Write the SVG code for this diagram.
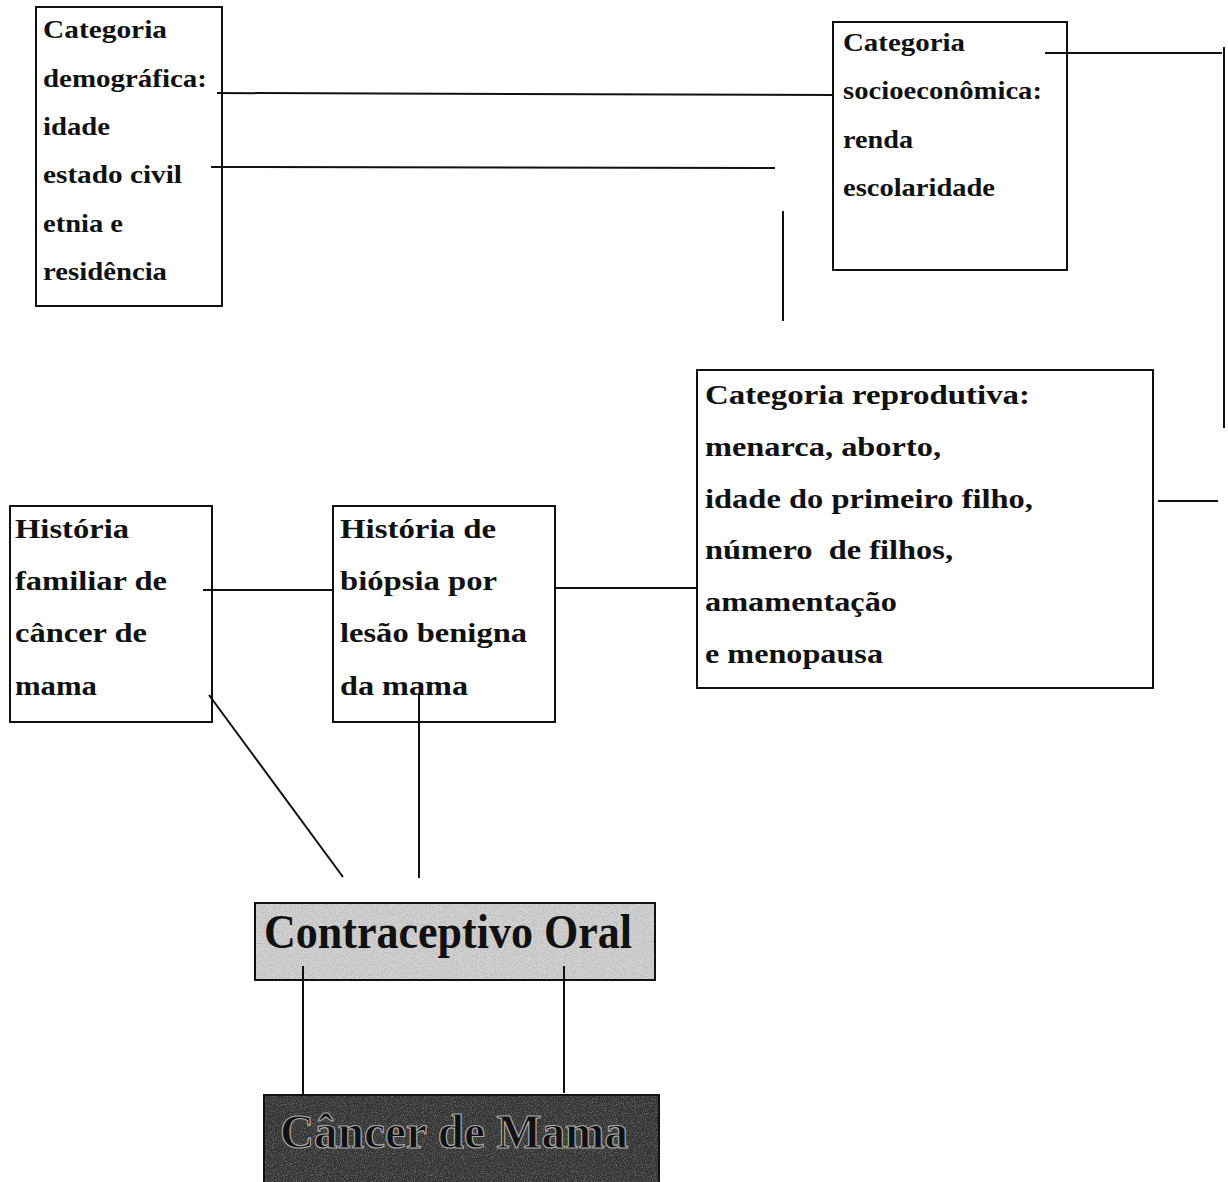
<svg xmlns="http://www.w3.org/2000/svg" width="1228" height="1182" viewBox="0 0 1228 1182">
<style>
.box{fill:#fff;stroke:#111;stroke-width:2}
.t{font-family:"Liberation Serif","Times New Roman",serif;font-weight:bold;fill:#111}
.s{font-size:25px}
.m{font-size:27px}
.c line{stroke:#111;stroke-width:2}
</style>
<defs>
<filter id="grain" x="0" y="0" width="100%" height="100%">
<feTurbulence type="fractalNoise" baseFrequency="0.9" numOctaves="2" seed="3" result="n"/>
<feColorMatrix in="n" type="matrix" values="0 0 0 0 0  0 0 0 0 0  0 0 0 0 0  0 0 0 -2.2 1.25" result="a"/>
<feComposite in="SourceGraphic" in2="a" operator="in"/>
</filter>
</defs>
<rect width="1228" height="1182" fill="#fff"/>
<g id="demografica">
<rect class="box" x="36" y="7" width="186" height="299"/>
<text class="t s" x="43" y="38" textLength="124" lengthAdjust="spacingAndGlyphs">Categoria</text>
<text class="t s" x="43" y="87" textLength="164" lengthAdjust="spacingAndGlyphs">demográfica:</text>
<text class="t s" x="43" y="135" textLength="67" lengthAdjust="spacingAndGlyphs">idade</text>
<text class="t s" x="43" y="183" textLength="139" lengthAdjust="spacingAndGlyphs">estado civil</text>
<text class="t s" x="43" y="232" textLength="80" lengthAdjust="spacingAndGlyphs">etnia e</text>
<text class="t s" x="43" y="280" textLength="124" lengthAdjust="spacingAndGlyphs">residência</text>
</g>
<g id="socioeconomica">
<rect class="box" x="833" y="22" width="234" height="248"/>
<text class="t s" x="843" y="51" textLength="122" lengthAdjust="spacingAndGlyphs">Categoria</text>
<text class="t s" x="843" y="99" textLength="199" lengthAdjust="spacingAndGlyphs">socioeconômica:</text>
<text class="t s" x="843" y="148" textLength="70" lengthAdjust="spacingAndGlyphs">renda</text>
<text class="t s" x="843" y="196" textLength="152" lengthAdjust="spacingAndGlyphs">escolaridade</text>
</g>
<g id="reprodutiva">
<rect class="box" x="697" y="370" width="456" height="318"/>
<text class="t m" x="705" y="404" textLength="325" lengthAdjust="spacingAndGlyphs">Categoria reprodutiva:</text>
<text class="t m" x="705" y="456" textLength="236" lengthAdjust="spacingAndGlyphs">menarca, aborto,</text>
<text class="t m" x="705" y="508" textLength="328" lengthAdjust="spacingAndGlyphs">idade do primeiro filho,</text>
<text class="t m" x="705" y="559" textLength="248" lengthAdjust="spacingAndGlyphs" xml:space="preserve">número  de filhos,</text>
<text class="t m" x="705" y="611" textLength="192" lengthAdjust="spacingAndGlyphs">amamentação</text>
<text class="t m" x="705" y="663" textLength="178" lengthAdjust="spacingAndGlyphs">e menopausa</text>
</g>
<g id="familiar">
<rect class="box" x="10" y="506" width="202" height="216"/>
<text class="t m" x="15" y="538" textLength="114" lengthAdjust="spacingAndGlyphs">História</text>
<text class="t m" x="15" y="590" textLength="152" lengthAdjust="spacingAndGlyphs">familiar de</text>
<text class="t m" x="15" y="642" textLength="132" lengthAdjust="spacingAndGlyphs">câncer de</text>
<text class="t m" x="15" y="695" textLength="82" lengthAdjust="spacingAndGlyphs">mama</text>
</g>
<g id="biopsia">
<rect class="box" x="333" y="506" width="222" height="216"/>
<text class="t m" x="340" y="538" textLength="156" lengthAdjust="spacingAndGlyphs">História de</text>
<text class="t m" x="340" y="590" textLength="157" lengthAdjust="spacingAndGlyphs">biópsia por</text>
<text class="t m" x="340" y="642" textLength="187" lengthAdjust="spacingAndGlyphs">lesão benigna</text>
<text class="t m" x="340" y="695" textLength="128" lengthAdjust="spacingAndGlyphs">da mama</text>
</g>
<g id="contraceptivo">
<rect x="255" y="903" width="400" height="77" fill="#d2d2d2" stroke="#111" stroke-width="2"/>
<rect x="256" y="904" width="398" height="75" fill="#8a8a8a" filter="url(#grain)" opacity="0.5"/>
<text class="t" x="264" y="948" font-size="48" textLength="368" lengthAdjust="spacingAndGlyphs">Contraceptivo Oral</text>
</g>
<g id="cancer">
<rect x="264" y="1095" width="395" height="95" fill="#333" stroke="#111" stroke-width="2"/>
<rect x="265" y="1096" width="393" height="86" fill="#c8c8c8" filter="url(#grain)" opacity="0.45"/>
<text class="t" x="280" y="1148" font-size="48" textLength="348" lengthAdjust="spacingAndGlyphs" fill="#151515" stroke="#aaa" stroke-width="1.2">Câncer de Mama</text>
</g>
<g id="connectors" class="c">
<line x1="217" y1="93" x2="833" y2="95"/>
<line x1="211" y1="167" x2="775" y2="168"/>
<line x1="783" y1="211" x2="783" y2="321"/>
<line x1="1045" y1="53" x2="1222" y2="53"/>
<line x1="1224" y1="47" x2="1224" y2="428"/>
<line x1="1158" y1="501" x2="1218" y2="501"/>
<line x1="203" y1="590" x2="333" y2="590"/>
<line x1="555" y1="588" x2="697" y2="588"/>
<line x1="209" y1="695" x2="343" y2="877"/>
<line x1="419" y1="693" x2="419" y2="878"/>
<line x1="303" y1="966" x2="303" y2="1095"/>
<line x1="564" y1="966" x2="564" y2="1093"/>
</g>
</svg>
